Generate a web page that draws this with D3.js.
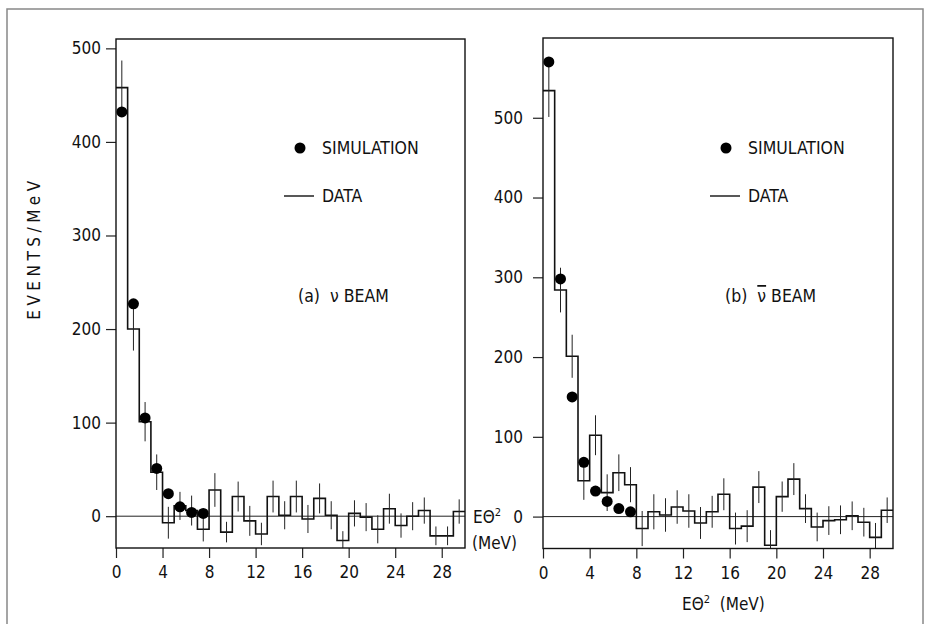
<!DOCTYPE html>
<html>
<head>
<meta charset="utf-8">
<script src="https://cdn.jsdelivr.net/npm/d3@7"></script>
<style>
  body { margin: 0; background: #fff; }
  svg text { font-family: "Liberation Sans Narrow", "DejaVu Sans Condensed", "Arial Narrow", sans-serif; fill: #111; }
</style>
</head>
<body>
<div class="chart"></div>
<script>
// bins are 1 MeV wide, from 0 to 30
var binStart = d3.range(0, 30);

// (a) nu beam
var dataA = [458, 200, 101, 47, -7, 11, 6, -14, 28, -17,
             21, -5, -19, 21, 1, 21, -3, 19, 1, -26,
             3, -1, -14, 8, -10, 0, 6, -21, -21, 5];
var errA  = [29, 23, 21, 19, 17, 15, 16, 13, 18, 11,
             16, 16, 12, 17, 15, 17, 15, 16, 15, 10,
             14, 15, 15, 16, 13, 15, 14, 10, 10, 13];
var simXA = [0.5, 1.5, 2.5, 3.5, 4.5, 5.5, 6.5, 7.5];
var simA  = [432, 227, 105, 51, 24, 10, 4, 3];

// (b) anti-nu beam
var dataB = [534, 284, 201, 45, 102, 30, 55, 40, -15, 6,
             2, 12, 7, -8, 6, 28, -15, -12, 37, -36,
             25, 47, 10, -13, -5, -4, 1, -7, -26, 8];
var errB  = [33, 28, 27, 24, 25, 23, 23, 22, 22, 22,
             21, 21, 21, 20, 20, 20, 20, 20, 20, 19,
             19, 20, 18, 18, 18, 18, 18, 18, 18, 16];
var simXB = [0.5, 1.5, 2.5, 3.5, 4.5, 5.5, 6.5, 7.5];
var simB  = [570, 298, 150, 68, 32, 19, 10, 6];

var xTicks = [0, 4, 8, 12, 16, 20, 24, 28];
var yTicks = [0, 100, 200, 300, 400, 500];

var width = 931, height = 624;
var svg = d3.select(".chart").append("svg")
    .attr("width", width)
    .attr("height", height);

// outer border of the figure
svg.append("rect")
    .attr("x", 7).attr("y", 9)
    .attr("width", 916).attr("height", 640)
    .attr("fill", "none")
    .attr("stroke", "#888")
    .attr("stroke-width", 1.5);

function panel(opt) {
    var x = d3.scaleLinear().domain([0, 30]).range([opt.left, opt.right]);
    var y = d3.scaleLinear().domain(opt.ydom).range([opt.bottom, opt.top]);
    var g = svg.append("g");

    var clipId = "clip" + opt.id;
    svg.append("clipPath").attr("id", clipId)
        .append("rect")
        .attr("x", opt.left).attr("y", opt.top)
        .attr("width", opt.right - opt.left).attr("height", opt.bottom - opt.top);

    // y axis, ticks outside the frame
    var yAxis = g.append("g")
        .attr("transform", "translate(" + opt.left + ",0)")
        .call(d3.axisLeft(y).tickValues(opt.yTicks).tickSize(10).tickPadding(opt.yPad).tickFormat(d3.format("d")));
    yAxis.select(".domain").remove();
    yAxis.selectAll("line").attr("stroke", "#222").attr("stroke-width", 1.2);
    yAxis.selectAll("text").style("font-size", "17px").attr("fill", "#111");

    // x axis below the frame
    var xAxis = g.append("g")
        .attr("transform", "translate(0," + opt.bottom + ")")
        .call(d3.axisBottom(x).tickValues(xTicks).tickSize(10).tickPadding(8));
    xAxis.select(".domain").remove();
    xAxis.selectAll("line").attr("stroke", "#222").attr("stroke-width", 1.2);
    xAxis.selectAll("text").style("font-size", "17px").attr("fill", "#111");

    // zero line
    g.append("line")
        .attr("x1", opt.left).attr("x2", opt.right)
        .attr("y1", y(0)).attr("y2", y(0))
        .attr("stroke", "#222").attr("stroke-width", 1);

    // histogram of data
    var pts = binStart.map((b, i) => [b, opt.data[i]]);
    pts.push([30, opt.data[opt.data.length - 1]]);
    var line = d3.line()
        .x(d => x(d[0]))
        .y(d => y(d[1]))
        .curve(d3.curveStepAfter);
    g.append("path")
        .datum(pts)
        .attr("clip-path", "url(#" + clipId + ")")
        .attr("d", line)
        .attr("fill", "none")
        .attr("stroke", "#111")
        .attr("stroke-width", 1.6);

    // error bars
    g.append("g")
        .attr("clip-path", "url(#" + clipId + ")")
        .selectAll("line")
        .data(binStart)
        .join("line")
        .attr("x1", d => x(d + 0.5))
        .attr("x2", d => x(d + 0.5))
        .attr("y1", (d, i) => y(opt.data[i] - opt.err[i]))
        .attr("y2", (d, i) => y(opt.data[i] + opt.err[i]))
        .attr("stroke", "#222")
        .attr("stroke-width", 1);

    // simulation points
    g.append("g")
        .selectAll("circle")
        .data(opt.simX)
        .join("circle")
        .attr("cx", d => x(d))
        .attr("cy", (d, i) => y(opt.sim[i]))
        .attr("r", 5.5)
        .attr("fill", "#000");

    // frame
    g.append("rect")
        .attr("x", opt.left).attr("y", opt.top)
        .attr("width", opt.right - opt.left).attr("height", opt.bottom - opt.top)
        .attr("fill", "none")
        .attr("stroke", "#111")
        .attr("stroke-width", 1.4);

    // legend
    var lx = opt.legendX;
    g.append("circle").attr("cx", lx).attr("cy", 148).attr("r", 5.5).attr("fill", "#000");
    g.append("text").attr("x", lx + 22).attr("y", 154).style("font-size", "17.5px").text("SIMULATION");
    g.append("line")
        .attr("x1", lx - 16).attr("x2", lx + 14)
        .attr("y1", 196).attr("y2", 196)
        .attr("stroke", "#111").attr("stroke-width", 1.4);
    g.append("text").attr("x", lx + 22).attr("y", 202).style("font-size", "17.5px").text("DATA");

    return g;
}

var gA = panel({
    id: "A", left: 116, right: 465, top: 39, bottom: 548,
    ydom: [-34, 510], yTicks: yTicks, yPad: 5,
    data: dataA, err: errA, simX: simXA, sim: simA, legendX: 300
});

var gB = panel({
    id: "B", left: 543, right: 893, top: 38, bottom: 548.5,
    ydom: [-40, 600], yTicks: yTicks, yPad: 10,
    data: dataB, err: errB, simX: simXB, sim: simB, legendX: 726
});

// panel labels
gA.append("text").attr("x", 298).attr("y", 302).style("font-size", "17.5px")
    .attr("xml:space", "preserve")
    .text("(a)  \u03bd BEAM");

var tb = gB.append("text").attr("x", 725).attr("y", 302).style("font-size", "17.5px")
    .attr("xml:space", "preserve");
tb.append("tspan").text("(b)  ");
tb.append("tspan").style("text-decoration", "overline").text("\u03bd");
tb.append("tspan").text(" BEAM");

// y axis title
svg.append("text")
    .attr("transform", "translate(40,248) rotate(-90)")
    .attr("text-anchor", "middle")
    .style("font-size", "17px")
    .style("letter-spacing", "4.5px")
    .text("EVENTS/MeV");

// x axis title, left panel (beside the zero line)
var t1 = svg.append("text").attr("x", 473).attr("y", 523).style("font-size", "17px");
t1.append("tspan").text("E\u0398");
t1.append("tspan").attr("dy", -7).style("font-size", "11px").text("2");
svg.append("text").attr("x", 472).attr("y", 549).style("font-size", "17px").text("(MeV)");

// x axis title, right panel
var t2 = svg.append("text").attr("x", 682).attr("y", 610).style("font-size", "17px")
    .attr("xml:space", "preserve");
t2.append("tspan").text("E\u0398");
t2.append("tspan").attr("dy", -7).style("font-size", "11px").text("2");
t2.append("tspan").attr("dy", 7).text("  (MeV)");
</script>
</body>
</html>
